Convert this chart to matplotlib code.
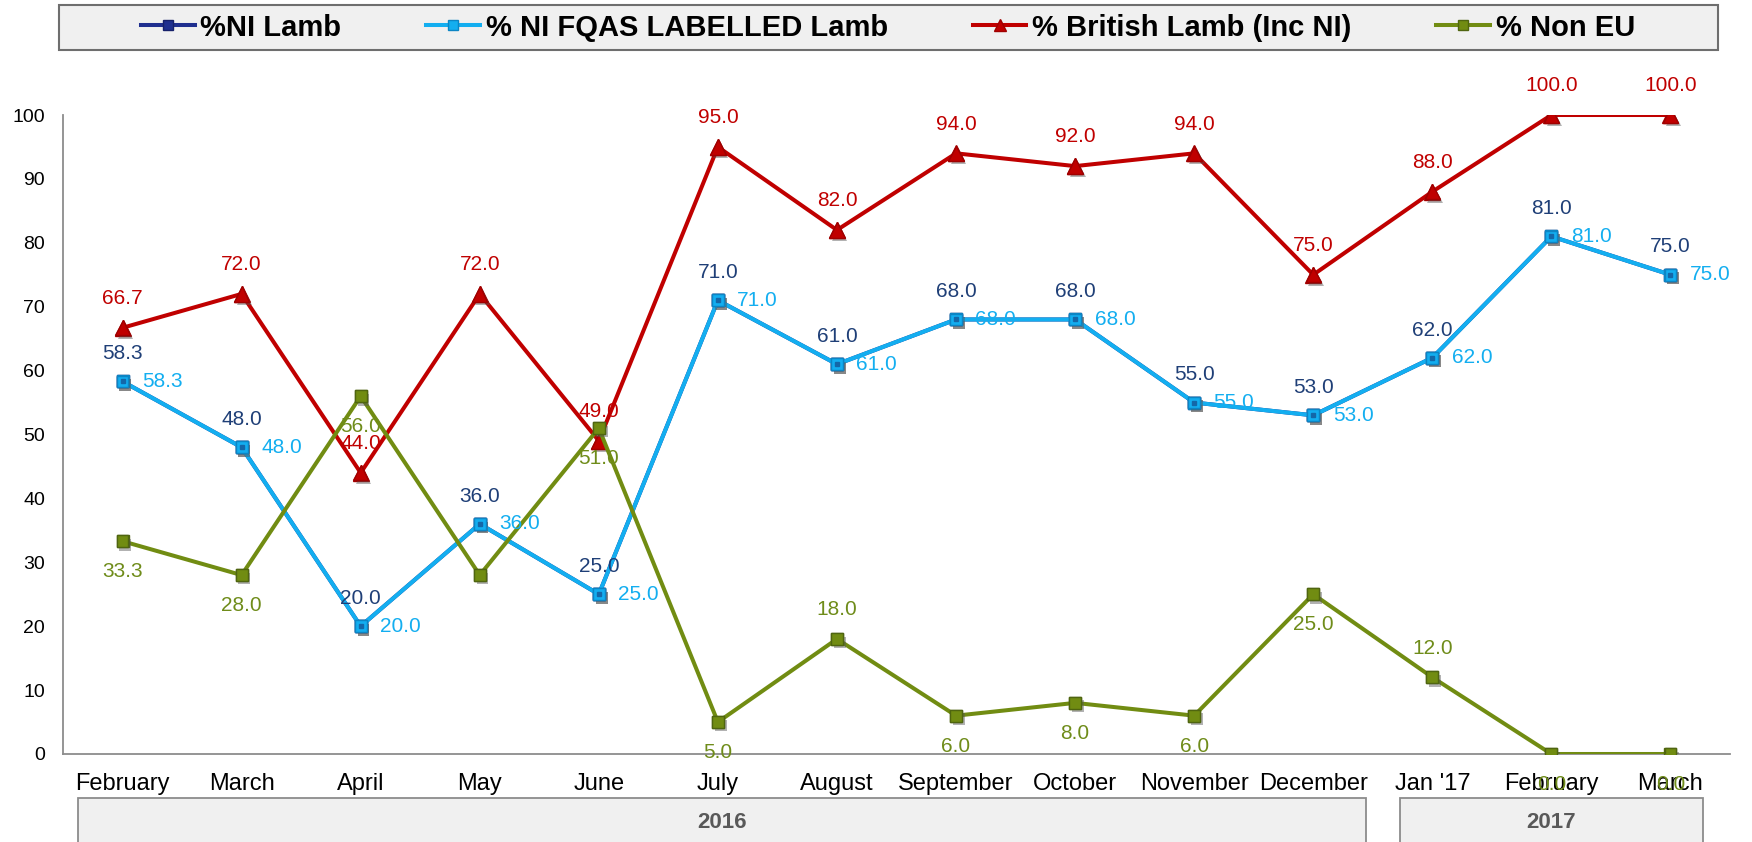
import matplotlib
matplotlib.use('Agg')
import matplotlib.pyplot as plt
from matplotlib.patches import Rectangle
from matplotlib import transforms
import matplotlib.patheffects as pe

# ---------------- data ----------------
months = ['February', 'March', 'April', 'May', 'June', 'July', 'August',
          'September', 'October', 'November', 'December', "Jan '17",
          'February', 'March']
years = ['2016', '2017']
ni_lamb = [58.3, 48.0, 20.0, 36.0, 25.0, 71.0, 61.0, 68.0, 68.0, 55.0, 53.0, 62.0, 81.0, 75.0]
ni_fqas = [58.3, 48.0, 20.0, 36.0, 25.0, 71.0, 61.0, 68.0, 68.0, 55.0, 53.0, 62.0, 81.0, 75.0]
british = [66.7, 72.0, 44.0, 72.0, 49.0, 95.0, 82.0, 94.0, 92.0, 94.0, 75.0, 88.0, 100.0, 100.0]
non_eu = [33.3, 28.0, 56.0, 28.0, 51.0, 5.0, 18.0, 6.0, 8.0, 6.0, 25.0, 12.0, 0.0, 0.0]
yticks = [0, 10, 20, 30, 40, 50, 60, 70, 80, 90, 100]

# ---------------- style ----------------
plt.rcParams['font.family'] = ['Liberation Sans', 'DejaVu Sans']
W, H = 1752, 842
fig = plt.figure(figsize=(W / 100, H / 100), dpi=100)
ax = fig.add_axes([63 / W, 1 - 754 / H, (1730 - 63) / W, (754 - 115) / H])

x = list(range(len(months)))
c_navy, c_navy_lbl = '#1f2f8f', '#1f3f77'
c_blue, c_blue_lbl = '#13aef0', '#13aef0'
c_red, c_red_lbl = '#c00000', '#c00000'
c_olive, c_olive_lbl = '#718c12', '#6f8c1a'

shadow = [pe.SimplePatchShadow(offset=(2, -2.5), shadow_rgbFace='#555555', alpha=0.45), pe.Normal()]

def series(vals, color, edge, marker, ms, label, z):
    line, = ax.plot(x, vals, color=color, lw=2.9, marker=marker, ms=ms,
                    mfc=color, mec=edge, mew=1.0, label=label, zorder=z,
                    solid_joinstyle='round')
    mk, = ax.plot(x, vals, ls='none', marker=marker, ms=ms, mfc=color,
                  mec=edge, mew=1.0, zorder=z + 0.5)
    mk.set_path_effects(shadow)
    return line

l1 = series(ni_lamb, c_navy, '#16206a', 's', 8.5, '%NI Lamb', 2)
l2 = series(ni_fqas, c_blue, '#0c85c4', 's', 8.5, '% NI FQAS LABELLED Lamb', 3)
ax.plot(x, ni_fqas, ls='none', marker='s', ms=2.5, mfc='#1467a8', mec='#1467a8', zorder=3.7)
l3 = series(british, c_red, '#a00000', '^', 11, '% British Lamb (Inc NI)', 4)
l4 = series(non_eu, c_olive, '#4f6510', 's', 8.5, '% Non EU', 5)

# data labels
fs = 15
for xi, v in zip(x, ni_lamb):
    ax.annotate(f'{v:.1f}', (xi, v), xytext=(0, 20), textcoords='offset points',
                ha='center', va='center', fontsize=fs, color=c_navy_lbl, zorder=10)
for xi, v in zip(x, ni_fqas):
    ax.annotate(f'{v:.1f}', (xi, v), xytext=(14, 0), textcoords='offset points',
                ha='left', va='center', fontsize=fs, color=c_blue_lbl, zorder=10)
for xi, v in zip(x, british):
    ax.annotate(f'{v:.1f}', (xi, v), xytext=(0, 21), textcoords='offset points',
                ha='center', va='center', fontsize=fs, color=c_red_lbl, zorder=10)
olive_place = ['below', 'below', 'below', None, 'below', 'below', 'above',
               'below', 'below', 'below', 'below', 'above', 'below', 'below']
for xi, v, p in zip(x, non_eu, olive_place):
    if p is None:
        continue
    dy = -22 if p == 'below' else 21
    ax.annotate(f'{v:.1f}', (xi, v), xytext=(0, dy), textcoords='offset points',
                ha='center', va='center', fontsize=fs, color=c_olive_lbl, zorder=10)

# axes
ax.set_xlim(-0.5, len(months) - 0.5)
ax.set_ylim(0, 100)
ax.set_yticks(yticks)
ax.set_yticklabels([str(t) for t in yticks], fontsize=14)
ax.set_xticks(x)
ax.set_xticklabels(months, fontsize=17)
ax.tick_params(axis='y', length=0, pad=13)
ax.tick_params(axis='x', length=0, pad=14)
for s in ['top', 'right']:
    ax.spines[s].set_visible(False)
for s in ['left', 'bottom']:
    ax.spines[s].set_color('#8c8c8c')
    ax.spines[s].set_linewidth(1.3)
ax.patch.set_alpha(0)

# year boxes
bt = transforms.blended_transform_factory(ax.transData, fig.transFigure)
box_edges = [(-0.37, 10.44), (10.73, 13.27)]
for (a, b), yr in zip(box_edges, years):
    r = Rectangle((a, -0.02), b - a, 1 - 798 / H + 0.02, transform=bt,
                  facecolor='#f0f0f0', edgecolor='#8c8c8c', lw=1.3, clip_on=False)
    fig.add_artist(r)
    fig.text((a + b) / 2, 1 - 822 / H, yr, transform=bt,
             ha='center', va='center', fontsize=16, fontweight='bold', color='#595959')

# legend
fig.add_artist(Rectangle((59 / W, 1 - 50 / H), (1718 - 59) / W, 45 / H,
                         transform=fig.transFigure, facecolor='#f0f0f0',
                         edgecolor='#6e6e6e', lw=1.5))
leg = fig.legend(handles=[l1, l2, l3, l4], loc='center', ncol=4,
                 bbox_to_anchor=(888 / W, 1 - 27.5 / H), frameon=False,
                 prop={'size': 21, 'weight': 'bold'}, handlelength=1.85,
                 handletextpad=0.2, columnspacing=2.9, numpoints=1,
                 markerscale=0.8)

fig.savefig('out.png', dpi=100)
